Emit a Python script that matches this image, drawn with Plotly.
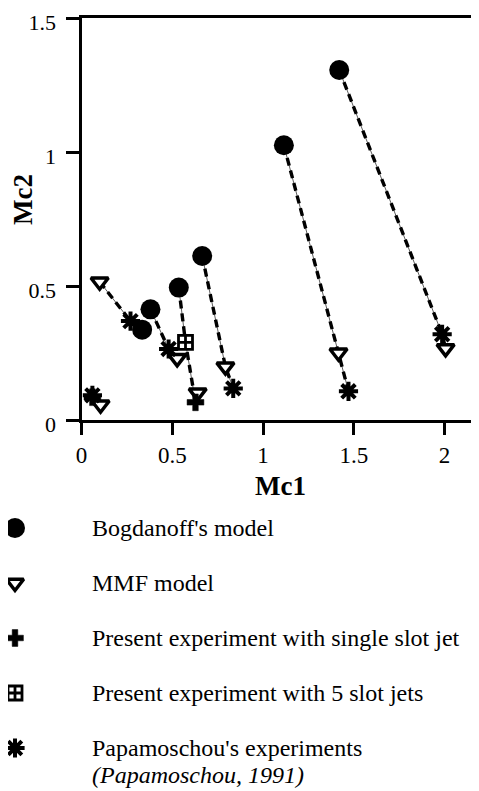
import plotly.graph_objects as go

# ---------------- data ----------------
bog_x = [1.42, 1.115, 0.665, 0.536, 0.38, 0.334]
bog_y = [1.306, 1.025, 0.612, 0.494, 0.413, 0.337]

mmf_x = [0.10, 0.105, 0.527, 0.64, 0.793, 1.416, 2.006]
mmf_y = [0.516, 0.057, 0.23, 0.102, 0.199, 0.251, 0.267]

single_x = [0.06, 0.628]
single_y = [0.085, 0.066]

five_x = [0.573]
five_y = [0.29]

pap_x = [0.06, 0.27, 0.48, 0.836, 1.471, 1.987]
pap_y = [0.092, 0.369, 0.265, 0.118, 0.107, 0.32]

x_tickvals = [0, 0.5, 1, 1.5, 2]
x_ticktext = ["0", "0.5", "1", "1.5", "2"]
y_tickvals = [0, 0.5, 1, 1.5]
y_ticktext = ["0", "0.5", "1", "1.5"]

legend_labels = [
    "Bogdanoff's model",
    "MMF model",
    "Present experiment with single slot jet",
    "Present experiment with 5 slot jets",
    "Papamoschou's experiments",
]
legend_note = "(Papamoschou, 1991)"

# dashed connections between points of the same case (series, index)
links = [
    [("mmf", 0), ("pap", 1)],
    [("bog", 4), ("pap", 2), ("mmf", 2)],
    [("bog", 3), ("five", 0), ("single", 1)],
    [("bog", 2), ("mmf", 4), ("pap", 3)],
    [("bog", 1), ("mmf", 5), ("pap", 4)],
    [("bog", 0), ("pap", 5), ("mmf", 6)],
]

# ---------------- figure ----------------
OFF = 8                      # page body margin
W, H = 479 - OFF, 791 - OFF  # figure size
FONT = "Liberation Serif"

series = {
    "bog": (bog_x, bog_y),
    "mmf": (mmf_x, mmf_y),
    "single": (single_x, single_y),
    "five": (five_x, five_y),
    "pap": (pap_x, pap_y),
}

line_x, line_y = [], []
for grp in links:
    for name, i in grp:
        line_x.append(series[name][0][i])
        line_y.append(series[name][1][i])
    line_x.append(None)
    line_y.append(None)

styles = {
    "bog": dict(symbol="circle", size=20, color="black", line=dict(width=0, color="black")),
    "mmf": dict(symbol="triangle-down", size=15, color="white", line=dict(width=3.5, color="black")),
    "single": dict(symbol="cross", size=14, color="black", line=dict(width=0.5, color="black")),
    "five": dict(symbol="square-cross", size=14, color="white", line=dict(width=2.8, color="black")),
    "pap": dict(symbol="asterisk-open", size=16, color="black", line=dict(width=4, color="black")),
}
order = ["bog", "mmf", "single", "five", "pap"]

fig = go.Figure()

fig.add_trace(go.Scatter(x=line_x, y=line_y, mode="lines", showlegend=False,
                         line=dict(color="#333", width=0.8), hoverinfo="skip"))
fig.add_trace(go.Scatter(x=line_x, y=line_y, mode="lines", showlegend=False,
                         line=dict(color="black", width=3.4, dash="8px,5px"), hoverinfo="skip"))

for key in order:
    xs, ys = series[key]
    fig.add_trace(go.Scatter(x=xs, y=ys, mode="markers", showlegend=False,
                             marker=styles[key], cliponaxis=False))

# page-pixel layout positions (as in the reference), converted to figure pixels
plot_l, plot_r, plot_t, plot_b = 81.5 - OFF, 478 - OFF, 18 - OFF, 420 - OFF
leg_top = 470 - OFF
first_row = 528 - OFF
row_step = 55.0
leg_marker_x = 7
leg_text_x = 90 - OFF

# legend panel (separate hidden axes in the lower part of the figure)
for i, key in enumerate(order):
    fig.add_trace(go.Scatter(x=[leg_marker_x], y=[i], mode="markers", showlegend=False,
                             marker=styles[key], xaxis="x2", yaxis="y2", cliponaxis=False))

annotations = []
for i, lab in enumerate(legend_labels):
    annotations.append(dict(x=leg_text_x, y=i, xref="x2", yref="y2", text=lab, showarrow=False,
                            xanchor="left", yanchor="middle",
                            font=dict(family=FONT, size=24, color="black")))
annotations.append(dict(x=leg_text_x, y=len(legend_labels) - 1 + 0.49, xref="x2", yref="y2",
                        text="<i>" + legend_note + "</i>", showarrow=False,
                        xanchor="left", yanchor="middle",
                        font=dict(family=FONT, size=24, color="black")))

# axis titles
annotations.append(dict(x=(280 - OFF) / W, y=1 - (486 - OFF) / H, xref="paper", yref="paper",
                        text="<b>Mc1</b>", showarrow=False, xanchor="center", yanchor="middle",
                        font=dict(family=FONT, size=27, color="black")))
annotations.append(dict(x=(23 - OFF) / W, y=1 - (200 - OFF) / H, xref="paper", yref="paper",
                        text="<b>Mc2</b>", showarrow=False, textangle=-90,
                        xanchor="center", yanchor="middle",
                        font=dict(family=FONT, size=27, color="black")))

y2_top = -(first_row - leg_top) / row_step
y2_bot = (H - first_row) / row_step

fig.update_layout(
    template="none",
    width=W, height=H,
    margin=dict(l=0, r=0, t=0, b=0, autoexpand=False),
    paper_bgcolor="white", plot_bgcolor="white",
    font=dict(family=FONT, size=23, color="black"),
    showlegend=False,
    xaxis=dict(domain=[plot_l / W, plot_r / W], range=[0, (plot_r - plot_l) / 181.5],
               tickvals=x_tickvals, ticktext=x_ticktext, automargin=False,
               ticklabeloverflow="allow",
               showgrid=False, zeroline=False, showline=True, linewidth=3, linecolor="black",
               mirror=True, ticks="outside", ticklen=12, tickwidth=3, tickcolor="black",
               tickfont=dict(family=FONT, size=23, color="black"), anchor="y"),
    yaxis=dict(domain=[1 - plot_b / H, 1 - plot_t / H], range=[0, (plot_b - plot_t) / 268.0],
               tickvals=y_tickvals, ticktext=y_ticktext, automargin=False,
               ticklabeloverflow="allow", ticklabelshift=4,
               showgrid=False, zeroline=False, showline=True, linewidth=3, linecolor="black",
               ticks="outside", ticklen=13, tickwidth=3, tickcolor="black",
               ticklabelstandoff=5,
               tickfont=dict(family=FONT, size=22, color="black"), anchor="x"),
    xaxis2=dict(domain=[0, 1], range=[0, W], visible=False, anchor="y2", fixedrange=True,
                automargin=False),
    yaxis2=dict(domain=[0, 1 - leg_top / H], range=[y2_bot, y2_top], visible=False,
                anchor="x2", fixedrange=True, automargin=False),
    annotations=annotations,
    shapes=[dict(type="line", xref="paper", yref="paper", x0=(plot_r - 0.5) / W, x1=(plot_r - 0.5) / W,
                 y0=1 - plot_b / H, y1=1 - plot_t / H, line=dict(color="#c8c8c8", width=1))],
)

fig.write_html("out.html")
